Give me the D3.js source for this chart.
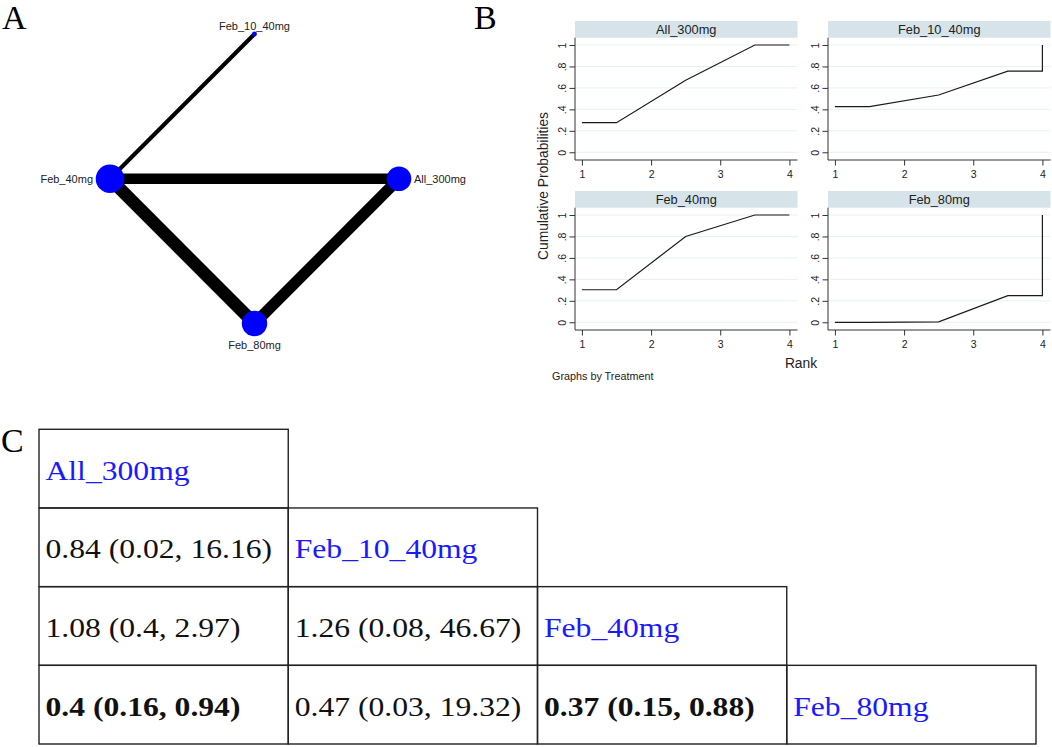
<!DOCTYPE html>
<html>
<head>
<meta charset="utf-8">
<script src="https://cdn.jsdelivr.net/npm/d3@7"></script>
<style>
  html, body { margin: 0; padding: 0; background: #fff; }
  svg { display: block; }
</style>
</head>
<body>
<svg id="chart" width="1052" height="747"></svg>
<script>
// ---------------- DATA ----------------
const treatments = ["All_300mg", "Feb_10_40mg", "Feb_40mg", "Feb_80mg"];

// Panel A: network (circular layout angle in degrees, node weight, edges)
const nodeAngle = [0, 90, 180, 270];
const nodeWeight = [151, 6, 204, 161];
const edgeSource = ["Feb_40mg", "Feb_40mg", "Feb_40mg", "All_300mg"];
const edgeTarget = ["Feb_10_40mg", "All_300mg", "Feb_80mg", "Feb_80mg"];
const edgeWeight = [1, 2.6, 3.1, 2.75];

// Panel B: cumulative ranking curves
const rankX = [1, 1.5, 2.5, 3.5, 4, 4];
const cumAll300 = [0.276, 0.276, 0.672, 1.0, 1.0, 1.0];
const cumFeb1040 = [0.425, 0.425, 0.534, 0.757, 0.757, 1.0];
const cumFeb40 = [0.303, 0.303, 0.80, 1.0, 1.0, 1.0];
const cumFeb80 = [0.0, 0.0, 0.004, 0.248, 0.248, 1.0];
const xTicks = [1, 2, 3, 4];
const yTicks = [0, 0.2, 0.4, 0.6, 0.8, 1];
const yTickLabels = ["0", ".2", ".4", ".6", ".8", "1"];

// Panel C: league table
const leagueValues = [
  ["0.84 (0.02, 16.16)"],
  ["1.08 (0.4, 2.97)", "1.26 (0.08, 46.67)"],
  ["0.4 (0.16, 0.94)", "0.47 (0.03, 19.32)", "0.37 (0.15, 0.88)"]
];
const leagueBold = [
  [false],
  [false, false],
  [true, false, true]
];

// ---------------- DRAW ----------------
const svg = d3.select("#chart");
const serif = "'Liberation Serif', 'Times New Roman', serif";
const sans = "'Liberation Sans', Arial, sans-serif";

// Panel letters
const letters = [["A", 2, 29], ["B", 474, 29], ["C", 1, 452]];
svg.selectAll("text.letter").data(letters).join("text")
  .attr("class", "letter")
  .attr("x", d => d[1])
  .attr("y", d => d[2])
  .attr("font-family", serif)
  .attr("font-size", 34)
  .attr("fill", "#000")
  .text(d => d[0]);

// ---------- Panel A ----------
const gA = svg.append("g");
const nx = d3.scaleLinear().domain([-1, 1]).range([110, 399]);
const ny = d3.scaleLinear().domain([-1, 1]).range([323.5, 34]);
const rScale = d3.scaleSqrt().domain([0, d3.max(nodeWeight)]).range([0, 14.3]);
const wScale = d3.scaleLinear().domain([0, d3.max(edgeWeight)]).range([0, 12.6]);

const nodes = treatments.map((t, i) => ({
  name: t,
  x: nx(Math.cos(nodeAngle[i] * Math.PI / 180)),
  y: ny(Math.sin(nodeAngle[i] * Math.PI / 180)),
  r: rScale(nodeWeight[i]),
  angle: nodeAngle[i]
}));
const byName = Object.fromEntries(nodes.map(n => [n.name, n]));
const edges = edgeSource.map((s, i) => ({ s: byName[s], t: byName[edgeTarget[i]], w: edgeWeight[i] }));

gA.selectAll("line.edge").data(edges).join("line")
  .attr("class", "edge")
  .attr("x1", d => d.s.x).attr("y1", d => d.s.y)
  .attr("x2", d => d.t.x).attr("y2", d => d.t.y)
  .attr("stroke", "#000")
  .attr("stroke-width", d => wScale(d.w));

gA.selectAll("circle.node").data(nodes).join("circle")
  .attr("class", "node")
  .attr("cx", d => d.x).attr("cy", d => d.y)
  .attr("r", d => d.r)
  .attr("fill", "#0000ff");

gA.selectAll("text.nlabel").data(nodes).join("text")
  .attr("class", "nlabel")
  .attr("font-family", sans)
  .attr("font-size", 11)
  .attr("fill", "#222")
  .attr("text-anchor", d => d.angle === 0 ? "start" : d.angle === 180 ? "end" : "middle")
  .attr("x", d => d.angle === 0 ? d.x + 15 : d.angle === 180 ? d.x - 17 : d.x)
  .attr("y", d => d.angle === 90 ? d.y - 4.5 : d.angle === 270 ? d.y + 25 : d.y + 4)
  .text(d => d.name);

// ---------- Panel B ----------
const curves = [cumAll300, cumFeb1040, cumFeb40, cumFeb80];
const colLeft = [575, 828];
const rowTop = [21, 191];
const panelW = 222.5;
const headerH = 16.7;
const plotH = 122.3;

treatments.forEach((t, i) => {
  const c = i % 2, r = Math.floor(i / 2);
  const left = colLeft[c];
  const top = rowTop[r];
  const plotTop = top + headerH;
  const plotBottom = plotTop + plotH;
  const g = svg.append("g");

  const x = d3.scaleLinear().domain([0.9, 4.117]).range([left, left + panelW]);
  const y = d3.scaleLinear().domain([-0.072, 1.068]).range([plotBottom, plotTop]);

  // header strip
  g.append("rect")
    .attr("x", left).attr("y", top)
    .attr("width", panelW).attr("height", headerH)
    .attr("fill", "#d6e4e9");
  g.append("text")
    .attr("x", left + panelW / 2).attr("y", top + 12.8)
    .attr("text-anchor", "middle")
    .attr("font-family", sans).attr("font-size", 12.8)
    .attr("fill", "#222")
    .text(t);

  // gridlines
  g.selectAll("line.grid").data(yTicks).join("line")
    .attr("class", "grid")
    .attr("x1", left).attr("x2", left + panelW)
    .attr("y1", d => y(d)).attr("y2", d => y(d))
    .attr("stroke", "#e8f0f2").attr("stroke-width", 1);

  // y axis
  const yAxis = d3.axisLeft(y).tickValues(yTicks)
    .tickFormat((d, k) => yTickLabels[k]).tickSize(5.5).tickPadding(3);
  const ya = g.append("g").attr("transform", `translate(${left},0)`).call(yAxis);
  ya.select(".domain").attr("d", `M0,${plotTop}V${plotBottom}`).attr("stroke", "#333");
  ya.selectAll(".tick line").attr("stroke", "#333");
  ya.selectAll(".tick text")
    .attr("font-family", sans).attr("font-size", 10.5).attr("fill", "#222")
    .attr("x", null).attr("dy", null)
    .attr("text-anchor", "middle")
    .attr("transform", "translate(-9,0) rotate(-90)");

  // x axis
  const xAxis = d3.axisBottom(x).tickValues(xTicks).tickFormat(d3.format("d"))
    .tickSize(5.5).tickPadding(5);
  const xa = g.append("g").attr("transform", `translate(0,${plotBottom})`).call(xAxis);
  xa.select(".domain").attr("d", `M${left},0H${left + panelW}`).attr("stroke", "#333");
  xa.selectAll(".tick line").attr("stroke", "#333");
  xa.selectAll(".tick text")
    .attr("font-family", sans).attr("font-size", 10.5).attr("fill", "#222");

  // curve
  const line = d3.line().x((d, k) => x(rankX[k])).y(d => y(d));
  g.append("path")
    .datum(curves[i])
    .attr("d", line)
    .attr("fill", "none")
    .attr("stroke", "#1a1a1a")
    .attr("stroke-width", 1.2);
});

// axis titles
svg.append("text")
  .attr("transform", "translate(548,186) rotate(-90)")
  .attr("text-anchor", "middle")
  .attr("font-family", sans).attr("font-size", 13.8)
  .attr("fill", "#222")
  .text("Cumulative Probabilities");
svg.append("text")
  .attr("x", 801).attr("y", 368)
  .attr("text-anchor", "middle")
  .attr("font-family", sans).attr("font-size", 13.8)
  .attr("fill", "#222")
  .text("Rank");
svg.append("text")
  .attr("x", 552).attr("y", 380)
  .attr("font-family", sans).attr("font-size", 10.8)
  .attr("fill", "#222")
  .text("Graphs by Treatment");

// ---------- Panel C ----------
const gC = svg.append("g");
const cx = d3.scaleBand().domain(d3.range(treatments.length)).range([39, 1036]);
const cy = d3.scaleBand().domain(d3.range(treatments.length)).range([429.3, 744]);

const cells = [];
treatments.forEach((t, r) => {
  for (let c = 0; c <= r; c++) {
    if (c === r) cells.push({ r, c, text: t, label: true, bold: false });
    else cells.push({ r, c, text: leagueValues[r - 1][c], label: false, bold: leagueBold[r - 1][c] });
  }
});

gC.selectAll("rect.cell").data(cells).join("rect")
  .attr("class", "cell")
  .attr("x", d => cx(d.c)).attr("y", d => cy(d.r))
  .attr("width", cx.bandwidth()).attr("height", cy.bandwidth())
  .attr("fill", "none").attr("stroke", "#222").attr("stroke-width", 1.4);

gC.selectAll("text.cell").data(cells).join("text")
  .attr("class", "cell")
  .attr("transform", d => `translate(${cx(d.c) + 6.5},${cy(d.r) + 50.5}) scale(1.15,1)`)
  .attr("font-family", serif)
  .attr("font-size", 27.5)
  .attr("font-weight", d => d.bold ? "bold" : "normal")
  .attr("fill", d => d.label ? "#1a1aff" : "#111")
  .text(d => d.text);
</script>
</body>
</html>
